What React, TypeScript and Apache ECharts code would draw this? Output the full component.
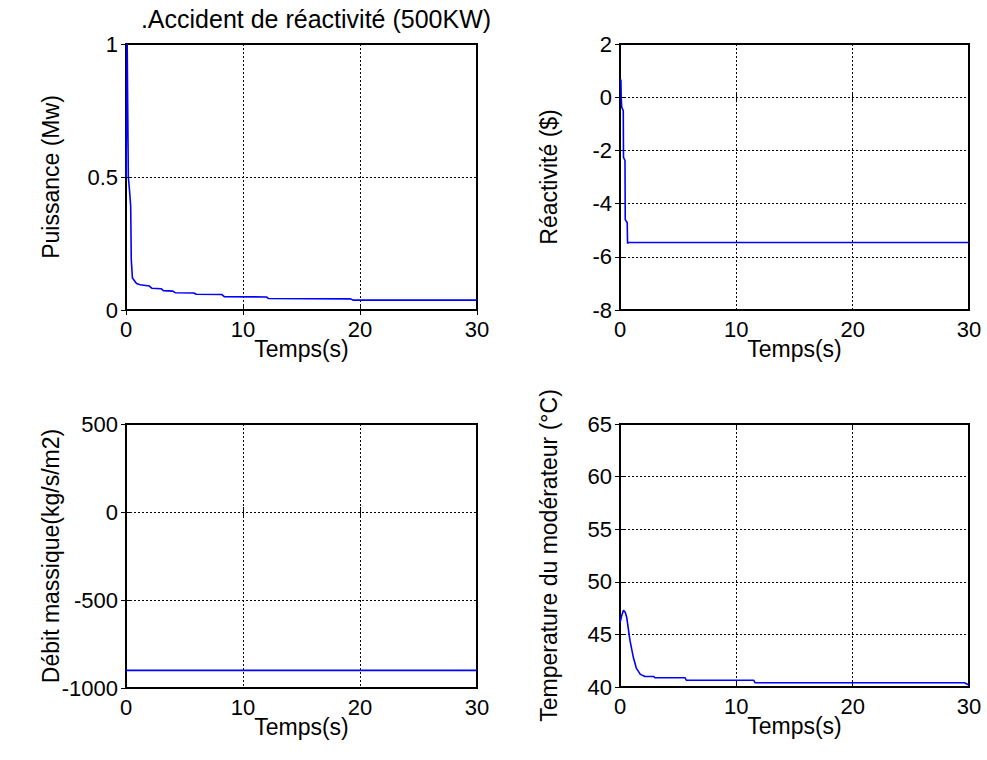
import React, { useEffect, useRef } from "react";
import * as echarts from "echarts";

// ---- data ----
const xTicks = [0, 10, 20, 30];

const powerT = [0, 0.1, 0.2, 0.3, 0.4, 0.45, 0.55, 0.9, 1.2, 2.0, 2.2, 3.0, 3.2, 4.0, 4.2, 5.8, 6.0, 8.2, 8.4, 12.0, 12.2, 19.2, 19.4, 30];
const powerV = [0.5, 1.0, 0.5, 0.45, 0.39, 0.19, 0.12, 0.1, 0.095, 0.09, 0.082, 0.08, 0.073, 0.071, 0.065, 0.064, 0.059, 0.058, 0.05, 0.049, 0.043, 0.042, 0.037, 0.037];

const reactT = [0, 0.08, 0.1, 0.15, 0.28, 0.3, 0.43, 0.45, 0.62, 0.65, 0.7, 30];
const reactV = [0.65, 0.65, 0.0, -0.38, -0.5, -2.26, -2.38, -4.6, -4.72, -5.5, -5.46, -5.46];

const flowT = [0, 30];
const flowV = [-900, -900];

const tempT = [0, 0.15, 0.3, 0.45, 0.58, 0.86, 1.15, 1.4, 1.75, 2.15, 2.9, 3.0, 5.6, 5.7, 11.5, 11.6, 29.6, 30];
const tempV = [46.1, 46.8, 47.3, 47.1, 46.6, 44.4, 42.8, 41.8, 41.2, 41.0, 41.0, 40.88, 40.88, 40.64, 40.64, 40.41, 40.41, 40.19];

const titleText = ".Accident de réactivité (500KW)";
const xName = "Temps(s)";
const yNames = ["Puissance (Mw)", "Réactivité ($)", "Débit massique(kg/s/m2)", "Temperature du modérateur (°C)"];
const yRanges = [
  { min: 0, max: 1, interval: 0.5 },
  { min: -8, max: 2, interval: 2 },
  { min: -1000, max: 500, interval: 500 },
  { min: 40, max: 65, interval: 5 },
];

const FONT = "Liberation Sans, Arial, Helvetica, sans-serif";
const TICK_SIZE = 22;
const NAME_SIZE = 23;

export default function App() {
  const ref = useRef<HTMLDivElement>(null);
  useEffect(() => {
    document.body.style.margin = "0";
    if (!ref.current) return;
    const chart = echarts.init(ref.current, undefined, { renderer: "svg" });

    const grids = [
      { left: 126, top: 44, width: 351, height: 266 },
      { left: 620, top: 44, width: 349, height: 266 },
      { left: 126, top: 424, width: 351, height: 264 },
      { left: 620, top: 424, width: 349, height: 263 },
    ];
    const yGaps = [64, 60, 64, 60];

    const series = [
      [powerT, powerV],
      [reactT, reactV],
      [flowT, flowV],
      [tempT, tempV],
    ];

    const fmt = (v: number) => String(v);

    const xAxis: any[] = [];
    const yAxis: any[] = [];
    grids.forEach((_, i) => {
      const common = {
        gridIndex: i,
        type: "value",
        axisLine: { show: false },
        axisTick: { show: true, inside: true, length: 5, lineStyle: { color: "#000", width: 1 } },
      };
      xAxis.push({
        ...common,
        min: xTicks[0],
        max: xTicks[xTicks.length - 1],
        interval: xTicks[1] - xTicks[0],
        position: "bottom",
        name: xName,
        nameLocation: "middle",
        nameGap: 27,
        nameMoveOverlap: false,
        nameTextStyle: { color: "#000", fontSize: NAME_SIZE, fontFamily: FONT },
        axisLabel: { color: "#000", fontSize: TICK_SIZE, fontFamily: FONT, margin: 8, formatter: fmt },
        splitLine: { show: true, lineStyle: { color: "#000", type: [2, 2], width: 1 } },
      });
      xAxis.push({
        ...common,
        min: xTicks[0],
        max: xTicks[xTicks.length - 1],
        interval: xTicks[1] - xTicks[0],
        position: "top",
        axisLabel: { show: false },
        splitLine: { show: false },
      });
      yAxis.push({
        ...common,
        ...yRanges[i],
        position: "left",
        name: yNames[i],
        nameLocation: "middle",
        nameRotate: 90,
        nameGap: yGaps[i],
        nameMoveOverlap: false,
        nameTextStyle: { color: "#000", fontSize: NAME_SIZE, fontFamily: FONT },
        axisLabel: { color: "#000", fontSize: TICK_SIZE, fontFamily: FONT, margin: 8, formatter: fmt },
        splitLine: { show: true, lineStyle: { color: "#000", type: [2, 2], width: 1 } },
      });
      yAxis.push({
        ...common,
        ...yRanges[i],
        position: "right",
        axisLabel: { show: false },
        splitLine: { show: false },
      });
    });

    chart.setOption({
      animation: false,
      backgroundColor: "#fff",
      grid: grids.map((g) => ({ ...g, show: true, borderColor: "#000", borderWidth: 2, backgroundColor: "transparent" })),
      xAxis,
      yAxis,
      graphic: [
        {
          type: "text",
          x: 316,
          y: 19,
          style: {
            text: titleText,
            font: `25px ${FONT}`,
            fill: "#000",
            textAlign: "center",
            textVerticalAlign: "middle",
          },
        },
      ],
      series: series.map(([t, v], i) => ({
        type: "line",
        xAxisIndex: i * 2,
        yAxisIndex: i * 2,
        data: t.map((x, k) => [x, v[k]]),
        showSymbol: false,
        symbol: "none",
        clip: true,
        lineStyle: { color: "#0000ff", width: 1.6 },
        z: 5,
      })),
    });
    return () => chart.dispose();
  }, []);
  return <div ref={ref} style={{ width: 987, height: 760 }} />;
}
